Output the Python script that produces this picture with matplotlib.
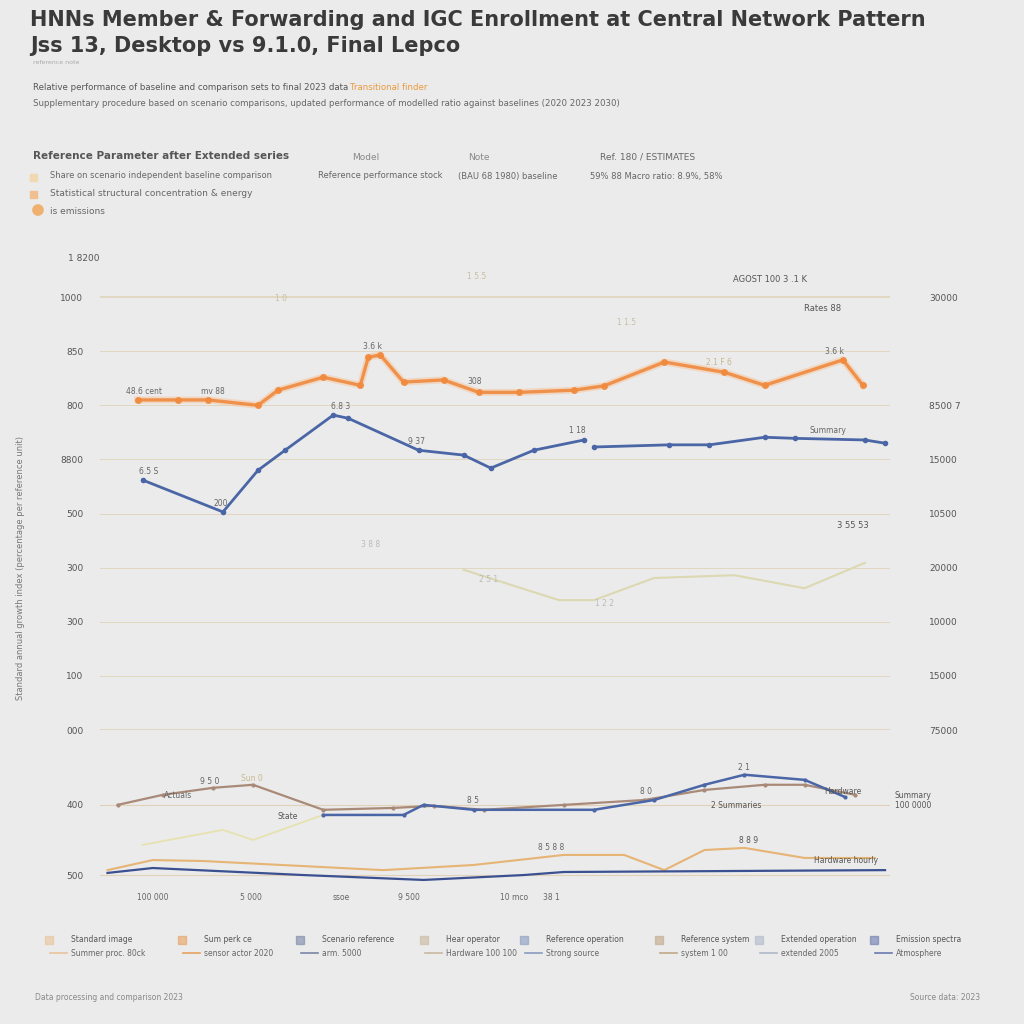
import numpy as np
import matplotlib
matplotlib.use("Agg")
import matplotlib.pyplot as plt

# ---------------- data ----------------
# upper panel (week index 0-52)
orange_x = [2.0, 4.67, 6.67, 10, 11.33, 14.33, 16.8, 17.33, 18.13, 19.67, 22.33, 24.67, 27.33, 31, 33, 37, 41, 43.67, 48.87, 50.2]
orange_y = [610, 610, 610, 600, 628, 652, 637, 689, 693, 643, 647, 624, 624, 628, 636, 680, 661, 637, 684, 637]

blue_x = [2.33, 7.67, 10, 11.8, 15, 16, 20.67, 23.67, 25.47, 28.33, 31.67, 32.0, 32.33, 37.33, 40, 43.67, 45.67, 50.33, 51.67]
blue_y = [462, 403, 480, 517, 582, 576, 517, 508, 484, 517, 536, np.nan, 523, 527, 527, 541, 539, 536, 530]

beige_x = [23.67, 30, 32.33, 36.33, 41.67, 46.33, 50.33]
beige_y = [296, 240, 240, 281, 286, 262, 309]

upper_ticks = [0, 100, 200, 300, 400, 500, 600, 700, 800]
upper_left_labels = ["000", "100", "300", "300", "500", "8800", "800", "850", "1000"]
upper_right_labels = ["75000", "15000", "10000", "20000", "10500", "15000", "8500 7", "", "30000"]

# lower panel
brown_x = [0.67, 3.67, 7, 9.67, 14.33, 19, 21.67, 25, 30.33, 35.67, 39.67, 43.67, 46.33, 49.67]
brown_y = [400, 443, 473, 486, 379, 387, 396, 379, 400, 421, 464, 486, 486, 443]

lblue_x = [14.33, 19.67, 21, 24.33, 32.33, 36.33, 39.67, 42.33, 46.33, 49]
lblue_y = [357, 357, 400, 379, 379, 421, 486, 529, 507, 434]

pale_x = [2.33, 7.67, 9.67, 14.33]
pale_y = [229, 293, 250, 357]

tan_x = [0, 3, 6.33, 18.33, 24.33, 30.33, 34.33, 37, 39.67, 42.33, 46.33, 51]
tan_y = [121, 164, 160, 121, 143, 186, 186, 121, 207, 216, 173, 173]

navy_x = [0, 3, 13, 21, 27.67, 30.33, 51.67]
navy_y = [109, 130, 100, 79, 100, 113, 121]

lower_ticks = [100, 400]
lower_labels = ["500", "400"]

x_tick_pos = [3, 9.5, 15.5, 20, 27, 29.5]
x_tick_labels = ["100 000", "5 000", "ssoe", "9 500", "10 mco", "38 1"]

bottom_legend_top = ["Standard image", "Sum perk ce", "Scenario reference", "Hear operator", "Reference operation", "Reference system", "Extended operation", "Emission spectra"]
bottom_legend_bot = ["Summer proc. 80ck", "sensor actor 2020", "arm. 5000", "Hardware 100 100", "Strong source", "system 1 00", "extended 2005", "Atmosphere"]
bottom_colors = ["#e9c39a", "#e8a060", "#7a86a8", "#c9b8a0", "#8a9ac0", "#c0a888", "#b0b8c8", "#6a7ab0"]

BG = "#ebebeb"
ORANGE = "#f08a3e"
BLUE = "#4a66a6"
BEIGE = "#dcd8b2"
BROWN = "#a98a78"
TAN = "#e6b474"
NAVY = "#3b5090"
GRID = "#e0d2b8"

plt.rcParams['font.family'] = ['DejaVu Sans']
fig = plt.figure(figsize=(10.24, 10.24), dpi=100, facecolor=BG)

def fy(py):
    return 1 - py / 1024.0

def fx(px):
    return px / 1024.0

# ---------------- titles ----------------
fig.text(fx(30), fy(20), "HNNs Member & Forwarding and IGC Enrollment at Central Network Pattern",
         fontsize=15, fontweight='bold', color="#3a3a3a", va='center', ha='left')
fig.text(fx(30), fy(46), "Jss 13, Desktop vs 9.1.0, Final Lepco",
         fontsize=15, fontweight='bold', color="#3a3a3a", va='center', ha='left')
fig.text(fx(33), fy(63), "reference note", fontsize=4.5, color="#aaaaaa", va='center')
fig.text(fx(33), fy(88), "Relative performance of baseline and comparison sets to final 2023 data",
         fontsize=6.2, color="#555555", va='center')
fig.text(fx(350), fy(88), "Transitional finder", fontsize=6.2, color="#e89a40", va='center')
fig.text(fx(33), fy(103), "Supplementary procedure based on scenario comparisons, updated performance of modelled ratio against baselines (2020 2023 2030)",
         fontsize=6.2, color="#666666", va='center')

# header block
fig.text(fx(33), fy(156), "Reference Parameter after Extended series", fontsize=7.5, color="#555555",
         fontweight='bold', va='center')
fig.text(fx(352), fy(157), "Model", fontsize=6.5, color="#888888", va='center')
fig.text(fx(468), fy(157), "Note", fontsize=6.5, color="#888888", va='center')
fig.text(fx(600), fy(157), "Ref. 180 / ESTIMATES", fontsize=6.5, color="#666666", va='center')
fig.text(fx(50), fy(176), "Share on scenario independent baseline comparison", fontsize=6, color="#666666", va='center')
fig.text(fx(318), fy(176), "Reference performance stock", fontsize=6, color="#666666", va='center')
fig.text(fx(458), fy(176), "(BAU 68 1980) baseline", fontsize=6, color="#666666", va='center')
fig.text(fx(590), fy(176), "59% 88 Macro ratio: 8.9%, 58%", fontsize=6, color="#666666", va='center')
fig.text(fx(50), fy(194), "Statistical structural concentration & energy", fontsize=6.5, color="#666666", va='center')
fig.text(fx(50), fy(211), "is emissions", fontsize=6.5, color="#666666", va='center')
fig.patches.append(plt.Rectangle((fx(30), fy(181)), 0.007, 0.007, transform=fig.transFigure, color="#f0d8b0"))
fig.patches.append(plt.Rectangle((fx(30), fy(198)), 0.007, 0.007, transform=fig.transFigure, color="#f0c090"))
fig.patches.append(plt.Circle((fx(38), fy(210)), 0.005, transform=fig.transFigure, color="#f0b070"))

# ---------------- upper axes ----------------
top_px, bot_px = 243, 730
ax = fig.add_axes([fx(100), fy(bot_px), fx(890) - fx(100), (bot_px - top_px) / 1024.0])
ax.set_facecolor(BG)
ax.set_xlim(-0.5, 52)
ax.set_ylim(0, 900)
for s in ax.spines.values():
    s.set_visible(False)
for t in upper_ticks:
    lw = 1.1 if t in (0, 800) else 0.6
    ax.axhline(t, color=GRID, lw=lw, zorder=0)
ax.set_yticks(upper_ticks)
ax.set_yticklabels(upper_left_labels, fontsize=6.5, color="#555555")
ax.tick_params(axis='y', length=0, pad=12)
ax.set_xticks([])

ax.plot(orange_x, orange_y, color=ORANGE, lw=2.4, marker='o', ms=4, zorder=3, alpha=0.9)
ax.plot(orange_x, orange_y, color="#f6c49a", lw=5, zorder=2, alpha=0.5)
ax.plot(blue_x, blue_y, color=BLUE, lw=2.0, marker='o', ms=3, zorder=3)
ax.plot(beige_x, beige_y, color=BEIGE, lw=1.5, zorder=2)

axr = ax.twinx()
axr.set_ylim(ax.get_ylim())
for s in axr.spines.values():
    s.set_visible(False)
axr.set_yticks(upper_ticks)
axr.set_yticklabels(upper_right_labels, fontsize=6.5, color="#555555")
axr.tick_params(axis='y', length=0, pad=28)

# annotations (small labels)
def ann(a, x, y, s, c="#666666", fs=5.5):
    a.text(x, y, s, fontsize=fs, color=c, ha='center', va='bottom')

ann(ax, 2.4, 618, "48.6 cent")
ann(ax, 7.0, 618, "mv 88")
ann(ax, 17.6, 700, "3.6 k")
ann(ax, 24.4, 635, "308")
ann(ax, 2.7, 470, "6.5 S")
ann(ax, 7.5, 410, "200")
ann(ax, 15.5, 590, "6.8 3")
ann(ax, 20.5, 525, "9 37")
ann(ax, 31.2, 545, "1 18")
ann(ax, 47.9, 545, "Summary")
ann(ax, 48.3, 692, "3.6 k")
ann(ax, 40.6, 670, "2.1 F 6", "#c8b890")
ann(ax, 34.5, 745, "1 1.5", "#c8c0a0")
ann(ax, 44.0, 825, "AGOST 100 3 .1 K", "#555555", 6)
ann(ax, 47.5, 770, "Rates 88", "#555555", 6)
ann(ax, 24.5, 830, "1 5.5", "#c8c0a0")
ann(ax, 11.5, 790, "1 0", "#c8c0a0")
ann(ax, 49.5, 370, "3 55 53", "#555555", 6)
ann(ax, 25.3, 270, "2 5 1", "#bbbbbb")
ann(ax, 33.0, 226, "1 2 2", "#bbbbbb")
ann(ax, 17.5, 335, "3 8 8", "#bbbbbb")
ax.text(-0.5, 872, "1 8200", fontsize=6.5, color="#555555", ha='right', va='center')

ax.text(-5.8, 300, "Standard annual growth index (percentage per reference unit)", rotation=90,
        fontsize=6, color="#777777", ha='center', va='center')

# ---------------- lower axes ----------------
ltop, lbot = 760, 890
lax = fig.add_axes([fx(100), fy(lbot), fx(890) - fx(100), (lbot - ltop) / 1024.0])
lax.set_facecolor(BG)
lax.set_xlim(-0.5, 52)
lax.set_ylim(36, 592)
for s in lax.spines.values():
    s.set_visible(False)
for t in lower_ticks:
    lax.axhline(t, color=GRID, lw=0.8, zorder=0)
lax.set_yticks(lower_ticks)
lax.set_yticklabels(lower_labels, fontsize=6.5, color="#555555")
lax.tick_params(axis='y', length=0, pad=12)
lax.set_xticks(x_tick_pos)
lax.set_xticklabels(x_tick_labels, fontsize=5.5, color="#666666")
lax.tick_params(axis='x', length=0, pad=2)

lax.plot(brown_x, brown_y, color=BROWN, lw=1.6, marker='o', ms=2, zorder=3)
lax.plot(lblue_x, lblue_y, color=BLUE, lw=1.8, marker='o', ms=2, zorder=3)
lax.plot(pale_x, pale_y, color="#e6e2b0", lw=1.3, zorder=2)
lax.plot(tan_x, tan_y, color=TAN, lw=1.5, zorder=2)
lax.plot(navy_x, navy_y, color=NAVY, lw=1.6, zorder=3)

ann(lax, 6.8, 480, "9 5 0")
ann(lax, 9.6, 495, "Sun 0", "#c8b890")
ann(lax, 4.7, 420, "Actuals")
ann(lax, 12.0, 330, "State", "#555555")
ann(lax, 24.3, 400, "8 5")
ann(lax, 35.8, 440, "8 0")
ann(lax, 42.3, 540, "2 1")
ann(lax, 48.9, 440, "Hardware", "#555555")
ann(lax, 41.8, 380, "2 Summaries", "#555555")
ann(lax, 29.5, 200, "8 5 8 8")
ann(lax, 42.6, 230, "8 8 9", "#555555")
ann(lax, 49.1, 145, "Hardware hourly", "#555555")
lax.text(52.3, 420, "Summary\n100 0000", fontsize=5.5, color="#555555", va='center')

# ---------------- bottom legend ----------------
cols_px = [45, 178, 296, 420, 520, 655, 755, 870]
for i, px in enumerate(cols_px):
    c = bottom_colors[i]
    fig.patches.append(plt.Rectangle((fx(px), fy(944)), 0.008, 0.008, transform=fig.transFigure, color=c, alpha=0.6))
    fig.text(fx(px + 26), fy(940), bottom_legend_top[i], fontsize=5.5, color="#555555", va='center')
    fig.lines.append(plt.Line2D([fx(px + 5), fx(px + 22)], [fy(953), fy(953)], transform=fig.transFigure, color=c, lw=1.2))
    fig.text(fx(px + 26), fy(953), bottom_legend_bot[i], fontsize=5.5, color="#666666", va='center')

fig.text(fx(35), fy(998), "Data processing and comparison 2023", fontsize=5.5, color="#888888", va='center')
fig.text(fx(980), fy(998), "Source data: 2023", fontsize=5.5, color="#888888", va='center', ha='right')

fig.savefig("out.png", dpi=100, facecolor=BG)
